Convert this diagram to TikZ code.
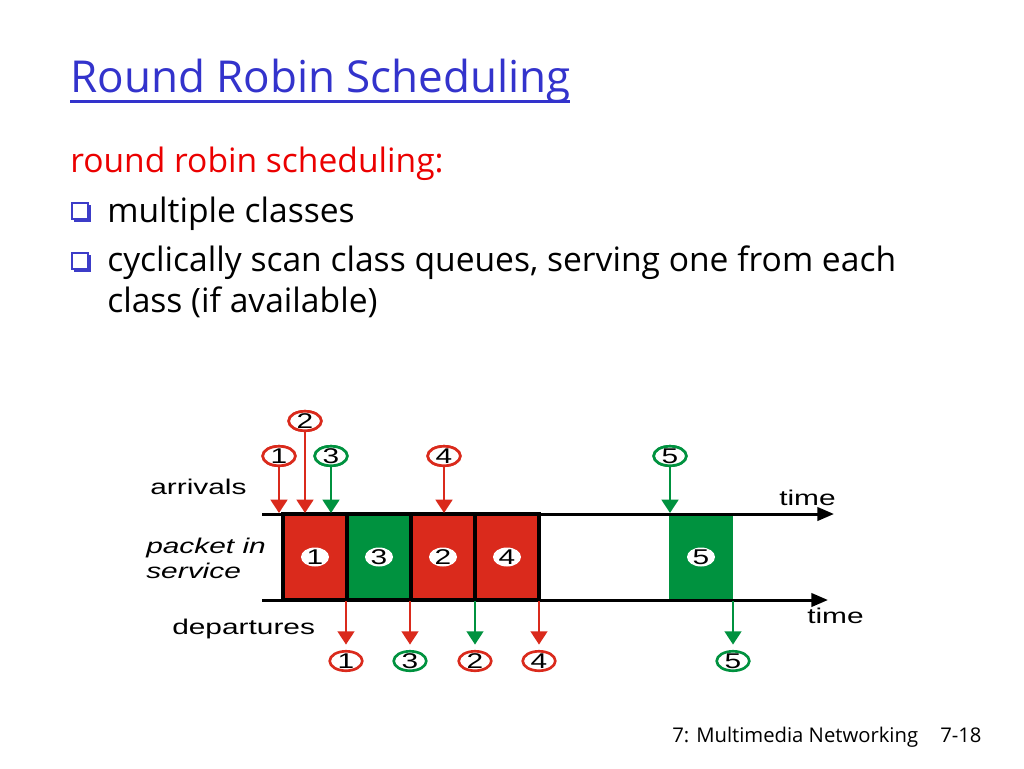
\documentclass[tikz,border=0pt]{standalone}
\usepackage{fontspec}
\setmainfont{Open Sans}
\newfontfamily\diagfont[FakeStretch=1.4]{Liberation Sans}
\usetikzlibrary{shapes.geometric,arrows.meta}
\definecolor{pktred}{RGB}{218,42,28}
\definecolor{pktgreen}{RGB}{0,146,63}
\definecolor{titleblue}{RGB}{51,51,204}
\definecolor{headred}{RGB}{235,0,0}
\definecolor{bulletblue}{RGB}{60,60,200}
\begin{document}
\begin{tikzpicture}[x=0.75pt,y=-0.75pt,
  bodytxt/.style={anchor=base west, inner sep=0, font=\fontsize{25.2}{30}\selectfont},
  lbl/.style={anchor=base west, inner sep=0, font=\diagfont\fontsize{16}{19}\selectfont},
  ilbl/.style={anchor=base west, inner sep=0, font=\diagfont\itshape\fontsize{16}{19}\selectfont},
  pkt/.style={rectangle, inner sep=0, minimum width=48pt, minimum height=64.5pt},
  inlbl/.style={ellipse, fill=white, inner xsep=0pt, inner ysep=-1.5pt, minimum width=21pt, minimum height=14.25pt, font=\diagfont\fontsize{16}{16}\selectfont},
  cirtag/.style={ellipse, draw=#1, fill=white, line width=2pt, inner xsep=0pt, inner ysep=-1.5pt, minimum width=24.5pt, minimum height=14.6pt, font=\diagfont\fontsize{16}{16}\selectfont},
  parr/.style={draw=#1, line width=2pt, -{Triangle[length=10pt,width=12.5pt]}},
  timeaxis/.style={draw=black, line width=2.25pt, -{Triangle[length=12.5pt,width=10pt]}},
  bulletbox/.style={draw=bulletblue, line width=0.9pt},
]
\fill[white] (0,0) rectangle (1024,768);
\useasboundingbox (0,0) rectangle (1024,768);

% title
\node[anchor=base west, inner sep=0, text=titleblue, font=\fontsize{33}{40}\selectfont] (title) at (70,92) {Round Robin Scheduling};
\draw[titleblue, line width=2.25pt] (title.base west) ++(0,9) -- ++(500,0);

% text
\node[bodytxt, text=headred] (head) at (70,172) {round robin scheduling:};
\draw[bulletbox] (72,203) rectangle (88,219);
\fill[bulletblue] (87.5,205) rectangle (91,222);
\fill[bulletblue] (74,218.5) rectangle (91,222);
\node[bodytxt] (b1txt) at (107,222) {multiple classes};
\draw[bulletbox] (72,253) rectangle (88,269);
\fill[bulletblue] (87.5,255) rectangle (91,272);
\fill[bulletblue] (74,268.5) rectangle (91,272);
\node[bodytxt] (b2txt) at (107,271) {cyclically scan class queues, serving one from each};
\node[bodytxt] (b2txtb) at (107,312) {class (if available)};

% footer
\node[anchor=base west, inner sep=0, font=\fontsize{15.2}{18}\selectfont] (foot) at (672,742) {7: Multimedia Networking};
\node[anchor=base west, inner sep=0, font=\fontsize{15.2}{18}\selectfont] (pageno) at (940,742) {7-18};

% diagram labels
\node[lbl] (arr) at (150,494) {arrivals};
\node[ilbl] (pis1) at (146,553) {packet in};
\node[ilbl] (pis2) at (146,578) {service};
\node[lbl] (dep) at (172,634) {departures};
\node[lbl] (time1) at (779,505) {time};
\node[lbl] (time2) at (807,623) {time};

% packet boxes
\node[pkt, fill=pktred, draw=black, line width=3pt] (p1) at (315,557) {};
\node[pkt, fill=pktgreen, draw=black, line width=3pt] (p3) at (379,557) {};
\node[pkt, fill=pktred, draw=black, line width=3pt] (p2) at (443,557) {};
\node[pkt, fill=pktred, draw=black, line width=3pt] (p4) at (507,557) {};
\node[pkt, fill=pktgreen] (p5) at (701,557) {};
\node[inlbl] (i1) at (p1) {1};
\node[inlbl] (i3) at (p3) {3};
\node[inlbl] (i2) at (p2) {2};
\node[inlbl] (i4) at (p4) {4};
\node[inlbl] (i5) at (p5) {5};

% time axes
\coordinate (tl0) at (262,514);
\coordinate (tl1) at (834,514);
\coordinate (bl0) at (262,600);
\coordinate (bl1) at (828,600);
\draw[timeaxis] (tl0) -- (tl1);
\draw[timeaxis] (bl0) -- (bl1);

% arrivals
\node[cirtag=pktred] (a1) at (279,456) {1};
\node[cirtag=pktred] (a2) at (305,421) {2};
\node[cirtag=pktgreen] (a3) at (331,456) {3};
\node[cirtag=pktred] (a4) at (444,456) {4};
\node[cirtag=pktgreen] (a5) at (670,456) {5};
\coordinate (e1) at (279,513);
\coordinate (e2) at (305,513);
\coordinate (e3) at (331,513);
\coordinate (e4) at (444,513);
\coordinate (e5) at (670,513);
\draw[parr=pktred] (a1) -- (e1);
\draw[parr=pktred] (a2) -- (e2);
\draw[parr=pktgreen] (a3) -- (e3);
\draw[parr=pktred] (a4) -- (e4);
\draw[parr=pktgreen] (a5) -- (e5);
\node[cirtag=pktred] (a1) at (279,456) {1};
\node[cirtag=pktred] (a2) at (305,421) {2};
\node[cirtag=pktgreen] (a3) at (331,456) {3};
\node[cirtag=pktred] (a4) at (444,456) {4};
\node[cirtag=pktgreen] (a5) at (670,456) {5};

% departures
\node[cirtag=pktred] (d1) at (346,661) {1};
\node[cirtag=pktgreen] (d3) at (410,661) {3};
\node[cirtag=pktred] (d2) at (475,661) {2};
\node[cirtag=pktred] (d4) at (539,661) {4};
\node[cirtag=pktgreen] (d5) at (733,661) {5};
\coordinate (s1) at (346,601);
\coordinate (s3) at (410,601);
\coordinate (s2) at (475,601);
\coordinate (s4) at (539,601);
\coordinate (s5) at (733,601);
\draw[parr=pktred, shorten >=4pt] (s1) -- (d1.north);
\draw[parr=pktred, shorten >=4pt] (s3) -- (d3.north);
\draw[parr=pktgreen, shorten >=4pt] (s2) -- (d2.north);
\draw[parr=pktred, shorten >=4pt] (s4) -- (d4.north);
\draw[parr=pktgreen, shorten >=4pt] (s5) -- (d5.north);
\end{tikzpicture}
\end{document}
